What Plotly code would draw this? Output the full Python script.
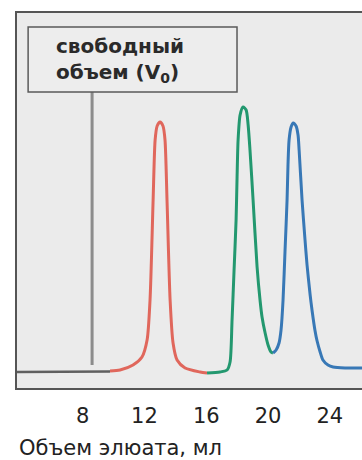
import plotly.graph_objects as go

# ---- data ----
tick_vals = [8, 12, 16, 20, 24]
tick_text = ["8", "12", "16", "20", "24"]

base_x = [3.75, 9.77]
base_y = [0.0, 0.002]

red_x = [9.77, 10.42, 11.26, 11.84, 12.17, 12.36, 12.56, 12.69, 12.82, 13.01,
         13.20, 13.33, 13.46, 13.66, 13.85, 14.11, 14.63, 15.60, 16.05]
red_y = [0.004, 0.008, 0.028, 0.06, 0.128, 0.288, 0.688, 0.928, 0.984, 1.0,
         0.984, 0.928, 0.688, 0.288, 0.116, 0.048, 0.016, 0.0, -0.004]

green_x = [16.05, 16.89, 17.35, 17.54, 17.67, 17.80, 17.93, 17.99, 18.06, 18.19,
           18.38, 18.58, 18.71, 18.83, 19.03, 19.29, 19.48, 19.61, 19.81, 20.00,
           20.19, 20.32]
green_y = [-0.004, 0.0, 0.008, 0.04, 0.208, 0.408, 0.608, 0.768, 0.928, 1.028,
           1.06, 1.048, 0.988, 0.888, 0.688, 0.42, 0.288, 0.22, 0.156, 0.108,
           0.08, 0.076]

blue_x = [20.32, 20.52, 20.71, 20.84, 20.97, 21.10, 21.23, 21.29, 21.36, 21.49,
          21.62, 21.81, 21.94, 22.01, 22.20, 22.39, 22.52, 22.72, 22.85, 23.04,
          23.17, 23.37, 23.55, 23.88, 24.21, 24.98, 26.08]
blue_y = [0.076, 0.088, 0.116, 0.168, 0.288, 0.488, 0.688, 0.828, 0.928, 0.98,
          0.996, 0.984, 0.948, 0.888, 0.688, 0.53, 0.43, 0.31, 0.245, 0.165,
          0.125, 0.08, 0.048, 0.028, 0.02, 0.016, 0.016]

void_x = [8.61, 8.61]
void_y = [0.028, 1.12]

label_text = "свободный<br>объем (V<sub>0</sub>)"
x_title = "Объем элюата, мл"

# ---- figure ----
fig = go.Figure()

def add_line(xs, ys, color, width=3):
    fig.add_trace(go.Scatter(x=xs, y=ys, mode="lines",
                             line=dict(color=color, width=width, shape="spline", smoothing=0.7),
                             hoverinfo="skip", showlegend=False))

add_line(base_x, base_y, "#5f5f5f", 2.5)
add_line(red_x, red_y, "#e0675c")
add_line(green_x, green_y, "#23986f")
add_line(blue_x, blue_y, "#3878b6")
fig.add_trace(go.Scatter(x=void_x, y=void_y, mode="lines",
                         line=dict(color="#8c8c8c", width=3),
                         hoverinfo="skip", showlegend=False))

# annotation box
fig.add_shape(type="rect", xref="x", yref="y", x0=4.47, x1=17.99, y0=1.12, y1=1.38,
              line=dict(color="#5a5a5a", width=1.5), fillcolor="#ededed", layer="above")
fig.add_annotation(x=6.15, y=1.25, xref="x", yref="y", text=label_text, showarrow=False,
                   xanchor="left", yanchor="middle", align="left",
                   font=dict(family="DejaVu Sans", size=20, color="#2a2a2a", weight="bold"))

# x-axis title, left aligned
fig.add_annotation(x=0.0, y=-0.16, xref="paper", yref="paper", text=x_title, showarrow=False,
                   xanchor="left", yanchor="middle",
                   font=dict(family="DejaVu Sans", size=21, color="#222222"))

fig.update_layout(
    width=362, height=460,
    margin=dict(l=17, r=0, t=13, b=72),
    paper_bgcolor="white",
    plot_bgcolor="#ebebeb",
    showlegend=False,
    xaxis=dict(range=[3.75, 26.08], tickvals=tick_vals, ticktext=tick_text,
               showgrid=False, zeroline=False, ticks="", showline=True, mirror=True,
               linecolor="#555555", linewidth=2, ticklabelstandoff=8,
               tickfont=dict(family="DejaVu Sans", size=21, color="#222222")),
    yaxis=dict(range=[-0.064, 1.436], showgrid=False, zeroline=False, showticklabels=False,
               ticks="", showline=True, linecolor="#555555", linewidth=2),
)

fig.write_html("out.html", config={"displayModeBar": False},
               post_script="document.body.style.margin='0';")
